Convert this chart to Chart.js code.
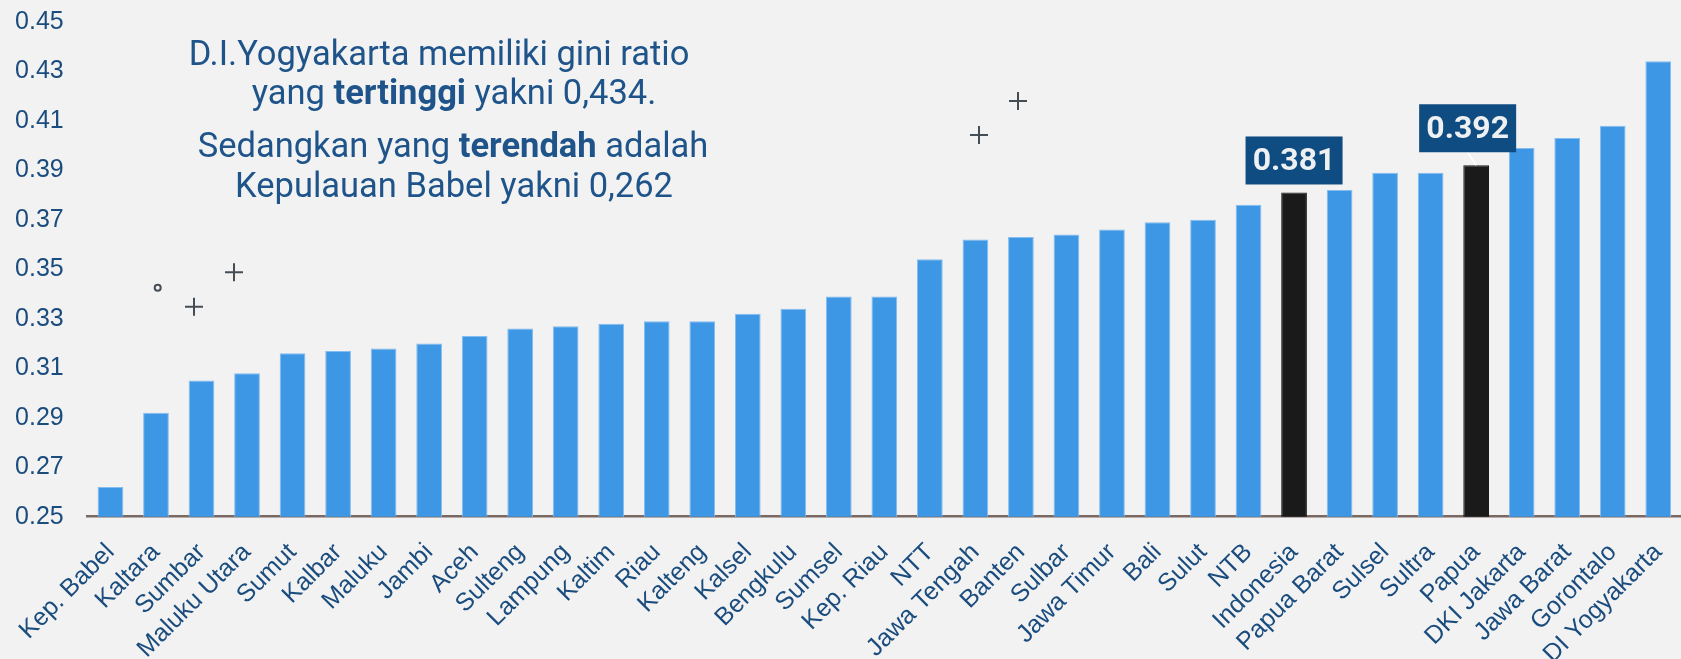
<!DOCTYPE html>
<html>
<head>
<meta charset="utf-8">
<script src="https://cdn.jsdelivr.net/npm/chart.js@4"></script>
<style>
    html, body { margin: 0; padding: 0; background: #f2f2f2; }
    #giniChart { display: block; }
</style>
</head>
<body>
<canvas id="giniChart" width="1681" height="659"></canvas>
<script>
        // Data
        const provinces = ['Kep. Babel', 'Kaltara', 'Sumbar', 'Maluku Utara', 'Sumut', 'Kalbar', 'Maluku', 'Jambi',
            'Aceh', 'Sulteng', 'Lampung', 'Kaltim', 'Riau', 'Kalteng', 'Kalsel', 'Bengkulu', 'Sumsel', 'Kep. Riau',
            'NTT', 'Jawa Tengah', 'Banten', 'Sulbar', 'Jawa Timur', 'Bali', 'Sulut', 'NTB', 'Indonesia',
            'Papua Barat', 'Sulsel', 'Sultra', 'Papua', 'DKI Jakarta', 'Jawa Barat', 'Gorontalo', 'DI Yogyakarta'];
        const giniRatio = [0.262, 0.292, 0.305, 0.308, 0.316, 0.317, 0.318, 0.320, 0.323, 0.326, 0.327, 0.328,
            0.329, 0.329, 0.332, 0.334, 0.339, 0.339, 0.354, 0.362, 0.363, 0.364, 0.366, 0.369, 0.370, 0.376,
            0.381, 0.382, 0.389, 0.389, 0.392, 0.399, 0.403, 0.408, 0.434];
        const highlighted = ['Indonesia', 'Papua'];
        const yTicks = [0.25, 0.27, 0.29, 0.31, 0.33, 0.35, 0.37, 0.39, 0.41, 0.43, 0.45];

        const noteLines = [
            [['D.I.Yogyakarta memiliki gini ratio', false]],
            [['yang ', false], ['tertinggi', true], [' yakni 0,434.', false]],
            [['Sedangkan yang ', false], ['terendah', true], [' adalah', false]],
            [['Kepulauan Babel yakni 0,262', false]]
        ];

        // Styles
        const blue = '#3d97e5';
        const dark = '#1a1a1a';
        const textBlue = '#1a4c7e';
        const boxBlue = '#0f4c81';
        const calloutShift = { 'Indonesia': { dx: 0, gap: 8 }, 'Papua': { dx: -8.5, gap: 13 } };

        // Callout boxes above highlighted bars
        const calloutPlugin = {
            id: 'callouts',
            afterDatasetsDraw(chart) {
                const ctx = chart.ctx;
                const bars = chart.getDatasetMeta(0).data;
                highlighted.forEach(name => {
                    const i = provinces.indexOf(name);
                    const bar = bars[i];
                    const s = calloutShift[name];
                    const w = 97, h = 48;
                    const cx = bar.x + s.dx;
                    const bottom = bar.y - s.gap;
                    ctx.save();
                    if (s.dx !== 0) {
                        ctx.strokeStyle = '#ffffff';
                        ctx.lineWidth = 1.5;
                        ctx.beginPath();
                        ctx.moveTo(cx, bottom);
                        ctx.lineTo(bar.x, bar.y);
                        ctx.stroke();
                    }
                    ctx.fillStyle = boxBlue;
                    ctx.fillRect(cx - w / 2, bottom - h, w, h);
                    ctx.fillStyle = '#eef0f2';
                    ctx.font = 'bold 32px Roboto';
                    ctx.textAlign = 'center';
                    ctx.textBaseline = 'middle';
                    ctx.fillText(giniRatio[i].toFixed(3), cx, bottom - h / 2 + 2);
                    ctx.restore();
                });
            }
        };

        // Note text and little decorations
        const notePlugin = {
            id: 'note',
            afterDraw(chart) {
                const ctx = chart.ctx;
                const baselines = [64.5, 103.5, 157, 197];
                const centers = [439, 454, 453, 454];
                ctx.save();
                ctx.fillStyle = '#1f548a';
                ctx.textBaseline = 'alphabetic';
                ctx.textAlign = 'left';
                noteLines.forEach((line, li) => {
                    let total = 0;
                    line.forEach(([txt, bold]) => {
                        ctx.font = (bold ? 'bold ' : '') + '34.5px Roboto';
                        total += ctx.measureText(txt).width;
                    });
                    let x = centers[li] - total / 2;
                    line.forEach(([txt, bold]) => {
                        ctx.font = (bold ? 'bold ' : '') + '34.5px Roboto';
                        ctx.fillText(txt, x, baselines[li]);
                        x += ctx.measureText(txt).width;
                    });
                });

                ctx.strokeStyle = '#454d55';
                ctx.lineWidth = 2;
                ctx.beginPath();
                ctx.arc(157.7, 287.7, 3, 0, Math.PI * 2);
                ctx.stroke();
                [[194, 306.7], [234, 272.3], [1018, 101], [979, 135]].forEach(([px, py]) => {
                    ctx.beginPath();
                    ctx.moveTo(px - 9, py);
                    ctx.lineTo(px + 9, py);
                    ctx.moveTo(px, py - 9);
                    ctx.lineTo(px, py + 9);
                    ctx.stroke();
                });
                ctx.restore();
            }
        };

        const isHighlighted = provinces.map(p => highlighted.includes(p));

        new Chart(document.getElementById('giniChart'), {
            type: 'bar',
            data: {
                labels: provinces,
                datasets: [{
                    data: giniRatio,
                    backgroundColor: isHighlighted.map(h => h ? dark : blue),
                    borderColor: isHighlighted.map(h => h ? dark : '#84bdef'),
                    borderWidth: { top: 1, left: 1, right: 1, bottom: 0 },
                    borderSkipped: 'bottom',
                    barPercentage: 0.565,
                    categoryPercentage: 1
                }]
            },
            options: {
                responsive: false,
                devicePixelRatio: 1,
                animation: false,
                layout: { padding: { top: 21.7, left: 0, right: 0, bottom: 0 } },
                plugins: {
                    legend: { display: false },
                    tooltip: { enabled: false }
                },
                scales: {
                    x: {
                        grid: { display: false, drawTicks: false },
                        border: { display: true, color: '#7a6863', width: 2.5 },
                        ticks: {
                            autoSkip: false,
                            minRotation: 45,
                            maxRotation: 45,
                            padding: 21,
                            color: textBlue,
                            font: { family: 'Liberation Sans, Arial', size: 25 }
                        },
                        afterFit(scale) {
                            scale.height = 142.3;
                            scale.paddingLeft = 0;
                            scale.paddingRight = 0;
                        }
                    },
                    y: {
                        min: 0.25,
                        max: 0.45,
                        grid: { display: false, drawTicks: false },
                        border: { display: false },
                        afterBuildTicks(scale) {
                            scale.ticks = yTicks.map(v => ({ value: v }));
                        },
                        ticks: {
                            padding: 24,
                            color: textBlue,
                            font: { family: 'Liberation Sans, Arial', size: 25 },
                            callback: v => v.toFixed(2)
                        },
                        afterFit(scale) {
                            scale.width = 87.7;
                            scale.paddingTop = 0;
                            scale.paddingBottom = 0;
                        }
                    }
                }
            },
            plugins: [calloutPlugin, notePlugin]
        });
</script>
</body>
</html>
